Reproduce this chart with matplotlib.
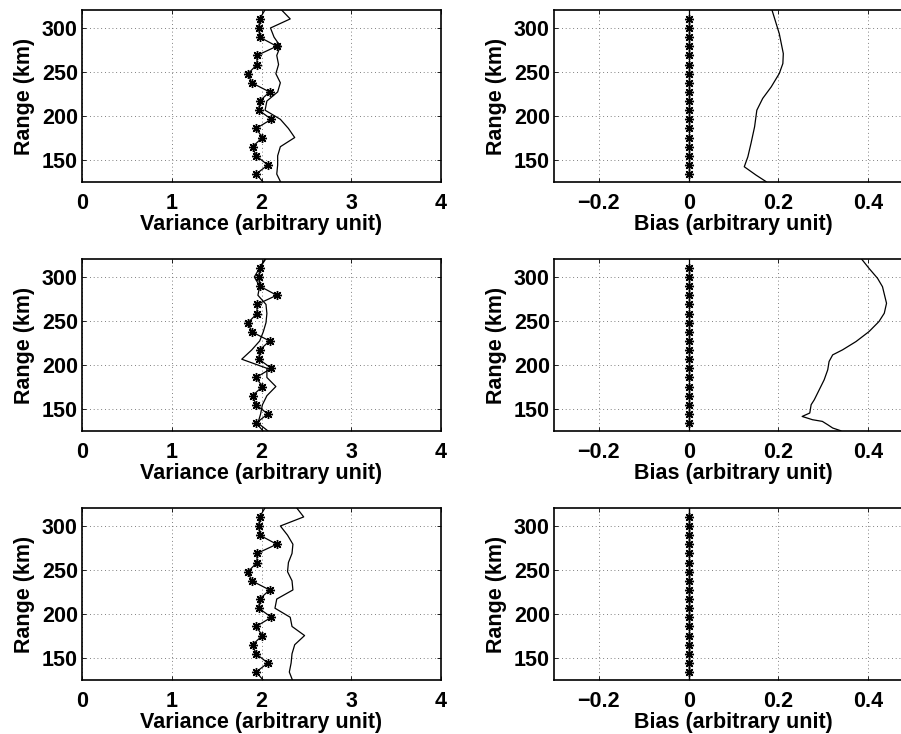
import matplotlib
matplotlib.use("Agg")
import matplotlib.pyplot as plt

plt.rcParams['font.family'] = ['Liberation Sans', 'DejaVu Sans']
plt.rcParams['font.weight'] = 'bold'
plt.rcParams['axes.labelweight'] = 'bold'

# range gates (km), bottom to top; first and last lie just outside the axes
range_km = [123.6, 134.0, 144.3, 154.7, 165.0, 175.4, 185.7, 196.1, 206.4, 216.8,
            227.1, 237.5, 247.8, 258.2, 268.5, 278.9, 289.2, 299.6, 309.9, 320.4]

# starred series (same in all three variance panels)
var_star = [2.03, 1.94, 2.07, 1.94, 1.90, 2.01, 1.94, 2.11, 1.97, 1.98,
            2.09, 1.89, 1.85, 1.95, 1.95, 2.17, 1.98, 1.97, 1.98, 2.04]

var_line_1 = [2.22, 2.17, 2.18, 2.18, 2.21, 2.37, 2.30, 2.21, 2.04, 2.06,
              2.18, 2.21, 2.16, 2.19, 2.17, 2.21, 2.14, 2.10, 2.32, 2.22]
var_line_2 = [2.09, 1.96, 1.99, 2.01, 2.06, 2.16, 2.06, 2.06, 1.78, 1.89,
              1.98, 2.02, 2.05, 2.06, 2.05, 1.96, 1.98, 1.92, 1.98, 2.05]
var_line_3 = [2.35, 2.31, 2.33, 2.34, 2.37, 2.48, 2.34, 2.32, 2.15, 2.17,
              2.35, 2.34, 2.29, 2.30, 2.34, 2.35, 2.29, 2.21, 2.47, 2.39]

bias_star = [0.0] * len(range_km)

bias_range_1 = [125.3, 132.9, 142.3, 153.6, 168.8, 187.6, 206.4, 219.7, 232.8,
                248.0, 259.3, 270.6, 293.2, 319.6]
bias_line_1 = [0.173, 0.150, 0.124, 0.132, 0.139, 0.147, 0.152, 0.165, 0.184,
               0.202, 0.210, 0.211, 0.202, 0.186]

bias_range_2 = [125.3, 128.4, 132.1, 135.9, 137.8, 141.5, 145.4, 154.8, 160.4,
                171.7, 183.0, 194.4, 203.8, 211.3, 217.0, 226.4, 237.7, 249.0,
                258.5, 269.8, 288.6, 298.1, 309.4, 319.6]
bias_line_2 = [0.339, 0.321, 0.310, 0.298, 0.276, 0.253, 0.270, 0.273, 0.280,
               0.291, 0.302, 0.310, 0.313, 0.321, 0.343, 0.373, 0.402, 0.424,
               0.436, 0.441, 0.432, 0.421, 0.402, 0.386]

bias_range_3 = range_km
bias_line_3 = [0.0] * len(range_km)

var_ticks = [0, 1, 2, 3, 4]
bias_ticks = [-0.2, 0, 0.2, 0.4]
range_ticks = [150, 200, 250, 300]

W, H = 901, 734
fig = plt.figure(figsize=(W / 100, H / 100), dpi=100)

star = (8, 2, 0)
grid_style = dict(color='#555555', linestyle=(0, (1, 3.5)), linewidth=0.6)
fs = 15.5


def style_axes(ax, xticks, xlabel):
    ax.set_ylim(125, 320)
    ax.set_xticks(xticks)
    ax.set_yticks(range_ticks)
    ax.tick_params(direction='in', length=3, width=0.6, top=True, right=True,
                   labelsize=fs)
    ax.tick_params(axis='x', pad=8)
    ax.tick_params(axis='y', pad=3)
    for lab in ax.get_xticklabels() + ax.get_yticklabels():
        lab.set_fontweight('bold')
    ax.grid(True, **grid_style)
    for s in ax.spines.values():
        s.set_linewidth(1.2)
    ax.set_xlabel(xlabel, fontsize=fs, labelpad=0)
    ax.set_ylabel('Range (km)', fontsize=fs, labelpad=5)


rows_top = [10, 259, 508]
ax_h = 172
ax_w = 359
var_lines = [var_line_1, var_line_2, var_line_3]
bias_lines = [(bias_range_1, bias_line_1), (bias_range_2, bias_line_2),
              (bias_range_3, bias_line_3)]

for i, top in enumerate(rows_top):
    bottom = 1 - (top + ax_h) / H
    # variance panel
    ax = fig.add_axes([82 / W, bottom, ax_w / W, ax_h / H])
    ax.plot(var_star, range_km, color='black', linewidth=0.9,
            marker=star, markersize=6.5, markeredgewidth=1.0,
            markevery=slice(1, len(range_km) - 1))
    ax.plot(var_lines[i], range_km, color='black', linewidth=0.9)
    ax.set_xlim(0, 4)
    style_axes(ax, var_ticks, 'Variance (arbitrary unit)')

    # bias panel (extends past the right edge of the figure)
    ax = fig.add_axes([554 / W, bottom, ax_w / W, ax_h / H])
    ax.plot(bias_star, range_km, color='black', linewidth=0.9,
            marker=star, markersize=6.5, markeredgewidth=1.0,
            markevery=slice(1, len(range_km) - 1))
    br, bl = bias_lines[i]
    ax.plot(bl, br, color='black', linewidth=0.9)
    ax.set_xlim(-0.3, 0.5)
    style_axes(ax, bias_ticks, 'Bias (arbitrary unit)')
    ax.set_xticklabels(['\u22120.2', '0', '0.2', '0.4'])

fig.savefig('out.png', dpi=100)
